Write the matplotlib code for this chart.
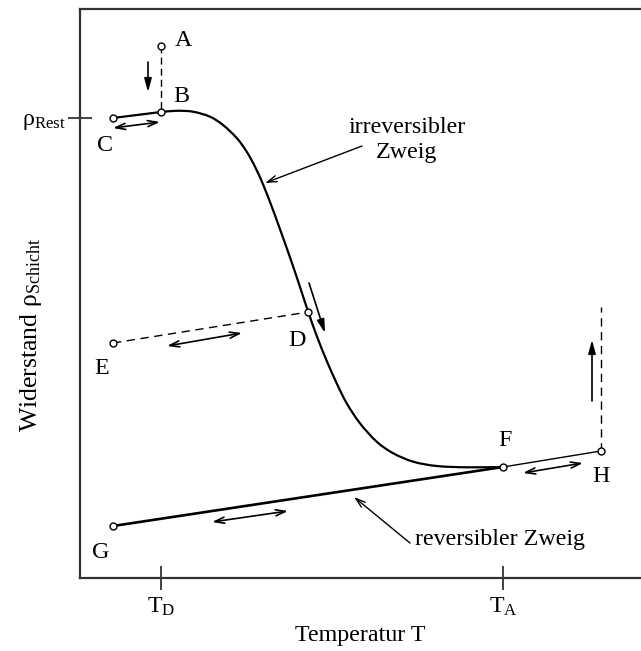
import matplotlib
matplotlib.use("Agg")
import matplotlib.pyplot as plt
from matplotlib.path import Path
from matplotlib.patches import PathPatch
import numpy as np

plt.rcParams['font.family'] = ['Liberation Serif', 'DejaVu Serif']
plt.rcParams['mathtext.fontset'] = 'custom'
plt.rcParams['mathtext.rm'] = 'Liberation Serif'
plt.rcParams['mathtext.it'] = 'Liberation Serif'
plt.rcParams['mathtext.bf'] = 'Liberation Serif'
plt.rcParams['mathtext.default'] = 'rm'

FS = 17.3

# ---- data (arbitrary units: T = temperature, rho = resistance) ----
# irreversible branch B -> D -> F
irr_T = [81, 96.7, 113, 130, 143, 156.7, 166.7, 175, 183.3, 191.7, 198.3, 206.7,
         214, 220, 228.3, 236.7, 246.7, 256.7, 266.7, 280, 296.7, 313.3, 333.3,
         356.7, 386.7, 423]
irr_rho = [466, 467.2, 466.3, 461.3, 453, 440, 426.3, 411.3, 393, 371.5, 353.5, 330,
           309, 291, 266, 242.2, 217.2, 194.7, 174.7, 154.7, 136.3, 124.7, 116.3,
           112, 110.7, 111]

point_names = ['A', 'B', 'C', 'D', 'E', 'F', 'G', 'H']
point_T = [81, 81, 33, 228.3, 33, 423, 33, 521]
point_rho = [532, 466, 460, 266, 235, 111, 52, 127]
label_T = [103, 101, 25, 217, 22, 425, 21, 521]
label_rho = [538, 482, 433, 238, 210, 138, 26, 102]

H_dash_top = 271
T_ticks = [81, 423]
T_ticklabels = [r'$\mathrm{T}_{\mathrm{D}}$', r'$\mathrm{T}_{\mathrm{A}}$']
rho_ticks = [460]
rho_ticklabels = [r'$\rho_{\mathrm{Rest}}$']

# direction arrows: (T_start, rho_start, T_end, rho_end, double)
arrows = [
    (68, 516, 68, 486, False),
    (33, 450, 80, 456, True),
    (87, 232, 162, 245, True),
    (229, 295, 245, 245, False),
    (443, 105, 503, 115, True),
    (512, 177, 512, 238, False),
    (132, 56, 208, 67, True),
]

P = dict(zip(point_names, zip(point_T, point_rho)))

fig = plt.figure(figsize=(6.41, 6.51), dpi=100)
ax = fig.add_axes([80/641, 73/651, 561/641, 569/651])
ax.set_xlim(0, 561)
ax.set_ylim(0, 569)

lc = 'black'


def smooth_path(xs, ys):
    pts = np.column_stack([xs, ys]).astype(float)
    n = len(pts)
    verts = [pts[0]]
    codes = [Path.MOVETO]
    for i in range(n - 1):
        p0 = pts[i - 1] if i > 0 else pts[i]
        p1 = pts[i]
        p2 = pts[i + 1]
        p3 = pts[i + 2] if i + 2 < n else pts[i + 1]
        c1 = p1 + (p2 - p0) / 6.0
        c2 = p2 - (p3 - p1) / 6.0
        verts += [c1, c2, p2]
        codes += [Path.CURVE4] * 3
    return Path(verts, codes)


# irreversible branch (smooth curve through the read points)
ax.add_patch(PathPatch(smooth_path(irr_T, irr_rho), fill=False, edgecolor=lc,
                       lw=1.6, capstyle='round', joinstyle='round'))
# C - B
ax.plot([P['C'][0], P['B'][0]], [P['C'][1], P['B'][1]], color=lc, lw=1.6)
# A - B dashed
ax.plot([P['A'][0], P['B'][0]], [P['A'][1], P['B'][1]], color=lc, lw=1.0, dashes=(5, 3))
# E - D dashed
ax.plot([P['E'][0], P['D'][0]], [P['E'][1], P['D'][1]], color=lc, lw=1.0, dashes=(6, 4))
# G - F reversible branch
ax.plot([P['G'][0], P['F'][0]], [P['G'][1], P['F'][1]], color=lc, lw=1.9)
# F - H
ax.plot([P['F'][0], P['H'][0]], [P['F'][1], P['H'][1]], color=lc, lw=1.0)
# H dashed vertical
ax.plot([P['H'][0], P['H'][0]], [P['H'][1], H_dash_top], color=lc, lw=1.0, dashes=(6, 4))

# points
ax.plot(point_T, point_rho, 'o', ms=5, mfc='white', mec=lc, mew=1.0, zorder=5, linestyle='none')

for n, tx, ty in zip(point_names, label_T, label_rho):
    ax.text(tx, ty, n, fontsize=FS, ha='center', va='center')

for (x0, y0, x1, y1, dbl) in arrows:
    style = '<->,head_length=0.7,head_width=0.22' if dbl else '-|>,head_length=0.8,head_width=0.22'
    ax.annotate('', xy=(x1, y1), xytext=(x0, y0),
                arrowprops=dict(arrowstyle=style, color=lc, lw=1.2,
                                shrinkA=0, shrinkB=0))

# annotations
ax.annotate('', xy=(185, 395), xytext=(282, 432),
            arrowprops=dict(arrowstyle='->,head_length=0.7,head_width=0.22', color=lc, lw=1.0,
                            shrinkA=0, shrinkB=0))
ax.text(327, 438, 'irreversibler\nZweig', fontsize=FS, ha='center', va='center',
        linespacing=1.25)
ax.annotate('', xy=(274, 81), xytext=(330, 35),
            arrowprops=dict(arrowstyle='->,head_length=0.7,head_width=0.22', color=lc, lw=1.0,
                            shrinkA=0, shrinkB=0))
ax.text(335, 38, 'reversibler Zweig', fontsize=FS, ha='left', va='center')

# axes styling
for s in ['left', 'bottom', 'top']:
    ax.spines[s].set_linewidth(1.6)
    ax.spines[s].set_color('#333333')
ax.spines['right'].set_visible(False)

ax.set_xticks(T_ticks)
ax.set_xticklabels(T_ticklabels, fontsize=FS)
ax.set_yticks(rho_ticks)
ax.set_yticklabels(rho_ticklabels, fontsize=FS)
ax.tick_params(axis='both', direction='inout', length=17, width=1.2, color='#222222')
ax.tick_params(axis='x', pad=4)
ax.tick_params(axis='y', pad=2)

ax.set_xlabel('Temperatur T', fontsize=FS, labelpad=5)
ax.set_ylabel(r'Widerstand $\rho_{\mathrm{Schicht}}$', fontsize=18.5)
ax.yaxis.set_label_coords(-36 / 561, 243 / 569)

fig.savefig('out.png', dpi=100)
